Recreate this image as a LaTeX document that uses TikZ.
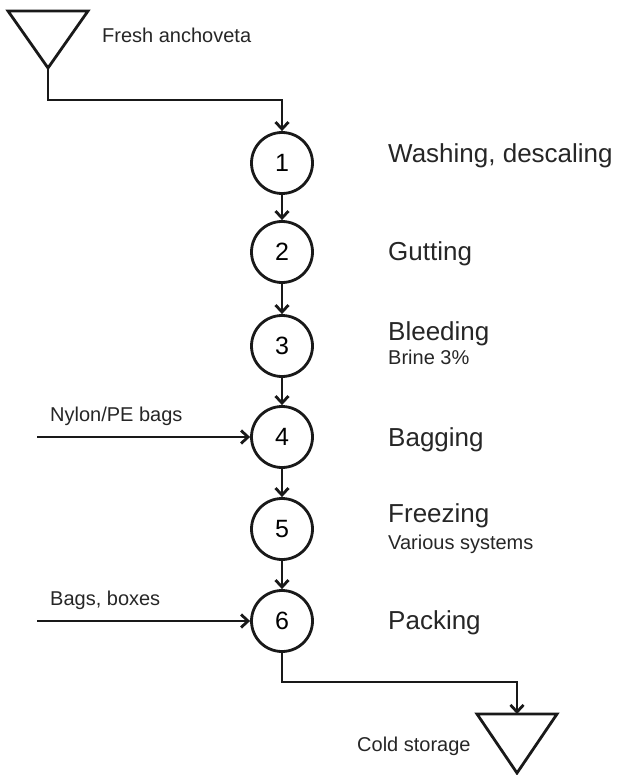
\documentclass[tikz,border=0pt]{standalone}
\usepackage{fontspec}
\setmainfont{Liberation Sans}
\usetikzlibrary{arrows.meta}
\begin{document}
\begin{tikzpicture}[x=1pt,y=-1pt,
  flow/.style={line width=2.8pt,draw=black!90,line join=miter},
  arr/.style={flow,-{Straight Barb[length=7pt,width=13pt,line width=2.8pt]}},
  stepcircle/.style={circle,flow,minimum size=61pt,inner sep=0pt,
    font=\fontsize{25}{29}\selectfont},
  biglabel/.style={anchor=base west,inner sep=0pt,text=black!85,
    font=\fontsize{26}{30}\selectfont},
  smalllabel/.style={anchor=base west,inner sep=0pt,text=black!85,
    font=\fontsize{20}{24}\selectfont}]
\useasboundingbox (0,0) rectangle (616,775);

% source and sink symbols
\draw[flow] (8,11) -- (88,11) -- (48,68) -- cycle;
\coordinate (src) at (48,68);
\draw[flow] (477,714) -- (557,714) -- (517,773) -- cycle;
\coordinate (sink) at (517,714);

% process steps
\node[stepcircle] (s1) at (282,163) {1};
\node[stepcircle] (s2) at (282,252) {2};
\node[stepcircle] (s3) at (282,346) {3};
\node[stepcircle] (s4) at (282,437) {4};
\node[stepcircle] (s5) at (282,529) {5};
\node[stepcircle] (s6) at (282,621) {6};

% side inputs
\coordinate (in4) at (37,437);
\coordinate (in6) at (37,621);

% connectors
\draw[arr] (src) |- (282,100) -- (s1.north);
\draw[arr] (s1) -- (s2);
\draw[arr] (s2) -- (s3);
\draw[arr] (s3) -- (s4);
\draw[arr] (s4) -- (s5);
\draw[arr] (s5) -- (s6);
\draw[arr] (in4) -- (s4.west);
\draw[arr] (in6) -- (s6.west);
\draw[arr] (s6.south) |- (517,682) -- (sink);

% labels
\node[smalllabel] (lsrc) at (102,43) {Fresh anchoveta};
\node[smalllabel] (lin4) at (50,421) {Nylon/PE bags};
\node[smalllabel] (lin6) at (50,605) {Bags, boxes};
\node[smalllabel] (lsink) at (357,751) {Cold storage};

\node[biglabel] (l1) at (388,163) {Washing, descaling};
\node[biglabel] (l2) at (388,261) {Gutting};
\node[biglabel] (l3) at (388,340) {Bleeding};
\node[smalllabel] (l3b) at (388,364) {Brine 3\%};
\node[biglabel] (l4) at (388,446) {Bagging};
\node[biglabel] (l5) at (388,522) {Freezing};
\node[smalllabel] (l5b) at (388,549) {Various systems};
\node[biglabel] (l6) at (388,629) {Packing};
\end{tikzpicture}
\end{document}
